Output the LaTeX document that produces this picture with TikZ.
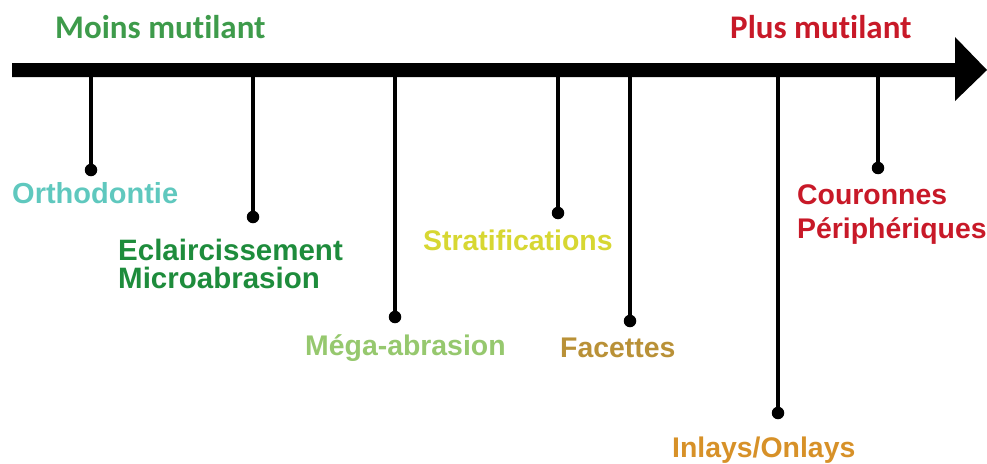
\documentclass[tikz,border=0pt]{standalone}
\usepackage{fontspec}
\setmainfont{Liberation Sans}
\newfontfamily\titlefont[Ligatures=NoCommon]{Carlito}
\definecolor{cMoins}{RGB}{62,155,75}
\definecolor{cPlus}{RGB}{200,25,40}
\definecolor{cOrtho}{RGB}{95,200,190}
\definecolor{cEclair}{RGB}{30,140,60}
\definecolor{cMega}{RGB}{150,200,110}
\definecolor{cStrat}{RGB}{215,215,50}
\definecolor{cFacet}{RGB}{185,145,55}
\definecolor{cInlay}{RGB}{215,145,40}
\begin{document}
\begin{tikzpicture}[x=1pt,y=-1pt,
  title/.style={inner sep=0pt,anchor=base west,font=\titlefont\bfseries\fontsize{33}{33}\selectfont},
  lab/.style={inner sep=0pt,anchor=base west,font=\bfseries\fontsize{28.4}{28}\selectfont},
  lab2/.style={inner sep=0pt,anchor=north west,align=left},
  dot/.style={circle,fill=black,inner sep=0pt,minimum size=12.5pt},
  stem/.style={line width=3.4pt}]
\useasboundingbox (0,0) rectangle (987,463);
% main axis arrow
\fill (12,63) -- (955,63) -- (955,37) -- (987,70) -- (955,101) -- (955,77) -- (12,77) -- cycle;
% titles
\node[title,text=cMoins] (moins) at (55,38) {Moins mutilant};
\node[title,text=cPlus] (plus) at (730,38) {Plus mutilant};
% axis points
\coordinate (a1) at (91,70);
\coordinate (a2) at (253,70);
\coordinate (a3) at (395,70);
\coordinate (a4) at (558,70);
\coordinate (a5) at (630,70);
\coordinate (a6) at (778,70);
\coordinate (a7) at (878,70);
% dots
\node[dot] (d1) at (91,170) {};
\node[dot] (d2) at (253,217) {};
\node[dot] (d3) at (395,317) {};
\node[dot] (d4) at (558,213) {};
\node[dot] (d5) at (630,321) {};
\node[dot] (d6) at (778,413) {};
\node[dot] (d7) at (878,168) {};
% stems
\foreach \i in {1,...,7} \draw[stem] (a\i) -- (d\i.center);
% labels
\node[lab,text=cOrtho,font=\bfseries\fontsize{29}{29}\selectfont] (ortho) at (12,203) {Orthodontie};
\node[lab2,text=cEclair,font=\bfseries\fontsize{29.5}{28}\selectfont] (eclair) at (118,239) {Eclaircissement\\Microabrasion};
\node[lab,text=cMega] (mega) at (305,355) {Méga-abrasion};
\node[lab,text=cStrat] (strat) at (423,250) {Stratifications};
\node[lab,text=cFacet] (facet) at (560,357) {Facettes};
\node[lab,text=cInlay] (inlay) at (672,457) {Inlays/Onlays};
\node[lab2,text=cPlus,font=\bfseries\fontsize{28.4}{34}\selectfont] (cour) at (797,184) {Couronnes\\Périphériques};
\end{tikzpicture}
\end{document}
